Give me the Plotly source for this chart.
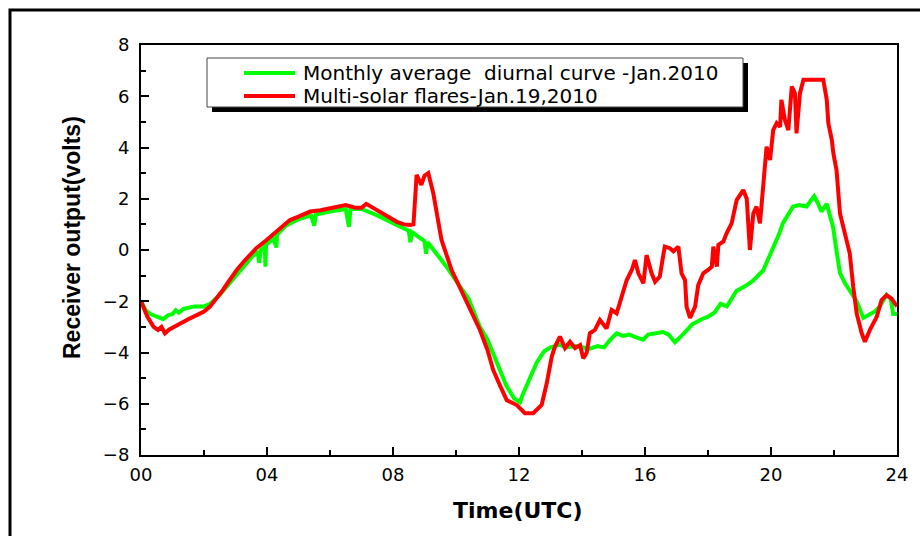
import plotly.graph_objects as go

# ---- data ----
green_t = [0.0, 0.15, 0.3, 0.5, 0.7, 0.85, 1.0, 1.1, 1.2, 1.35, 1.5, 1.7, 2.0, 2.2, 2.5, 2.8, 3.0,
           3.3, 3.5, 3.7, 3.75, 3.8, 3.93, 3.95, 3.97, 4.2, 4.3, 4.32, 4.6, 5.0, 5.4, 5.5, 5.55,
           6.0, 6.5, 6.6, 6.65, 7.0, 7.5, 8.0, 8.5, 8.55, 8.6, 9.0, 9.05, 9.1, 9.5, 9.7, 10.0,
           10.4, 10.76, 11.0, 11.3, 11.6, 11.85, 12.03, 12.1, 12.3, 12.56, 12.8, 13.0, 13.3,
           13.5, 13.8, 14.0, 14.25, 14.5, 14.7, 14.9, 15.1, 15.3, 15.5, 15.7, 15.94, 16.1, 16.3,
           16.57, 16.75, 16.95, 17.2, 17.5, 17.8, 18.0, 18.2, 18.4, 18.6, 18.9, 19.2, 19.43,
           19.75, 19.9, 20.07, 20.25, 20.38, 20.55, 20.7, 20.9, 21.13, 21.25, 21.37, 21.5, 21.6,
           21.77, 21.87, 21.97, 22.1, 22.19, 22.35, 22.5, 22.72, 22.93, 23.1, 23.3, 23.46, 23.6,
           23.67, 23.8, 23.88, 24.0]
green_v = [-2.0, -2.35, -2.5, -2.6, -2.7, -2.55, -2.5, -2.35, -2.45, -2.3, -2.25, -2.2, -2.2, -2.1,
           -1.75, -1.3, -1.0, -0.55, -0.3, -0.05, -0.5, 0.0, 0.15, -0.65, 0.2, 0.45, 0.1, 0.6,
           0.95, 1.2, 1.35, 0.95, 1.38, 1.5, 1.6, 0.9, 1.6, 1.6, 1.35, 1.05, 0.75, 0.3, 0.7,
           0.35, -0.15, 0.3, -0.3, -0.65, -1.2, -1.9, -3.0, -3.5, -4.4, -5.3, -5.8, -5.95, -5.7,
           -5.1, -4.4, -3.95, -3.8, -3.7, -3.8, -3.75, -3.8, -3.85, -3.75, -3.8, -3.5, -3.25,
           -3.35, -3.3, -3.4, -3.5, -3.3, -3.25, -3.2, -3.3, -3.6, -3.3, -2.9, -2.7, -2.6, -2.45,
           -2.1, -2.2, -1.6, -1.4, -1.2, -0.8, -0.4, 0.1, 0.6, 1.05, 1.4, 1.7, 1.75, 1.7, 1.9,
           2.1, 1.8, 1.5, 1.8, 1.4, 0.9, -0.2, -0.9, -1.3, -1.6, -2.0, -2.65, -2.55, -2.4, -2.2,
           -1.85, -1.75, -1.9, -2.5, -2.5]

red_t = [0.0, 0.2, 0.4, 0.54, 0.65, 0.76, 0.9, 1.24, 1.5, 1.77, 2.0, 2.19, 2.4, 2.6, 2.8, 3.04,
         3.3, 3.67, 3.95, 4.19, 4.45, 4.73, 5.0, 5.37, 5.7, 6.0, 6.3, 6.5, 6.8, 7.0, 7.15, 7.3,
         7.59, 7.85, 8.12, 8.35, 8.54, 8.65, 8.75, 8.9, 9.0, 9.12, 9.28, 9.44, 9.54, 9.86, 10.1,
         10.4, 10.76, 11.0, 11.18, 11.4, 11.61, 11.93, 12.19, 12.45, 12.6, 12.72, 12.88, 13.04,
         13.14, 13.3, 13.46, 13.62, 13.78, 13.94, 14.04, 14.15, 14.25, 14.41, 14.57, 14.78,
         14.94, 15.1, 15.26, 15.42, 15.58, 15.68, 15.79, 15.95, 16.05, 16.21, 16.32, 16.47,
         16.58, 16.63, 16.79, 16.9, 17.06, 17.16, 17.27, 17.32, 17.43, 17.59, 17.69, 17.85,
         18.0, 18.12, 18.17, 18.28, 18.33, 18.49, 18.59, 18.75, 18.91, 19.12, 19.23, 19.33,
         19.44, 19.54, 19.65, 19.76, 19.86, 19.97, 20.07, 20.18, 20.29, 20.33, 20.44, 20.55,
         20.66, 20.76, 20.81, 20.92, 21.03, 21.66, 21.77, 21.82, 21.93, 21.98, 22.08, 22.19,
         22.3, 22.5, 22.61, 22.72, 22.88, 22.98, 23.14, 23.36, 23.51, 23.67, 23.83, 23.97, 24.0]
red_v = [-2.0, -2.6, -3.0, -3.12, -3.0, -3.25, -3.1, -2.86, -2.7, -2.54, -2.4, -2.21, -1.9, -1.56,
         -1.2, -0.78, -0.4, 0.08, 0.35, 0.59, 0.9, 1.17, 1.3, 1.5, 1.55, 1.64, 1.7, 1.75, 1.65,
         1.65, 1.8, 1.7, 1.5, 1.3, 1.1, 1.0, 0.98, 1.0, 2.93, 2.54, 2.9, 3.0, 2.21, 1.04, 0.39,
         -0.78, -1.4, -2.1, -3.12, -3.9, -4.68, -5.3, -5.86, -6.05, -6.37, -6.37, -6.2, -6.05,
         -5.2, -4.16, -3.78, -3.38, -3.83, -3.58, -3.83, -3.71, -4.23, -4.0, -3.25, -3.12,
         -2.73, -3.06, -2.34, -2.47, -1.82, -1.17, -0.78, -0.39, -0.91, -1.3, -0.2, -0.91,
         -1.24, -1.04, -0.2, 0.13, 0.07, -0.05, 0.13, -0.91, -1.17, -2.21, -2.65, -2.21, -1.37,
         -0.91, -0.78, -0.65, 0.13, -0.65, 0.2, 0.33, 0.65, 1.04, 1.95, 2.34, 2.0, 0.0, 1.43,
         1.69, 1.04, 2.86, 4.03, 3.51, 4.68, 4.95, 4.81, 5.86, 5.08, 4.68, 6.38, 6.12, 4.55,
         6.12, 6.64, 6.64, 5.86, 4.95, 4.3, 3.77, 3.12, 1.43, 0.91, -0.13, -1.43, -2.47, -3.25,
         -3.58, -3.12, -2.6, -1.95, -1.76, -1.9, -2.21, -2.2]

series_names = ["Monthly average  diurnal curve -Jan.2010", "Multi-solar flares-Jan.19,2010"]
series_colors = ["#00ff00", "#ff0000"]

x_tickvals = [0, 4, 8, 12, 16, 20, 24]
x_ticktext = ["00", "04", "08", "12", "16", "20", "24"]
y_tickvals = [-8, -6, -4, -2, 0, 2, 4, 6, 8]

# ---- layout geometry (pixels) ----
W, H = 920, 536
L, R, T, B = 141, 897, 45, 455
PW, PH = R - L, B - T


def px(xp):
    return (xp - L) / PW


def py(yp):
    return (B - yp) / PH


fig = go.Figure()
fig.add_trace(go.Scatter(x=green_t, y=green_v, mode="lines", name=series_names[0],
                         line=dict(color=series_colors[0], width=4), showlegend=False))
fig.add_trace(go.Scatter(x=red_t, y=red_v, mode="lines", name=series_names[1],
                         line=dict(color=series_colors[1], width=4), showlegend=False))

wide = "DejaVu Sans, Verdana, sans-serif"
arial = "Liberation Sans, Arial, sans-serif"
fig.update_layout(
    width=W, height=H,
    margin=dict(l=L, r=W - R, t=T, b=H - B, pad=0),
    paper_bgcolor="white", plot_bgcolor="white",
    font=dict(family=wide, size=18, color="black"),
    showlegend=False,
)
fig.update_xaxes(range=[0, 24], tickvals=x_tickvals, ticktext=x_ticktext,
                 showline=True, linecolor="black", linewidth=2, mirror=True,
                 ticks="inside", ticklen=8, tickwidth=1.5, tickcolor="black",
                 minor=dict(dtick=2, ticks="inside", ticklen=5, tickwidth=1.5, tickcolor="black"),
                 showgrid=False, zeroline=False, tickfont=dict(size=18, family=wide),
                 ticklabelstandoff=2)
fig.update_yaxes(range=[-8, 8], tickvals=y_tickvals,
                 showline=True, linecolor="black", linewidth=2, mirror=True,
                 ticks="inside", ticklen=8, tickwidth=1.5, tickcolor="black",
                 minor=dict(dtick=1, ticks="inside", ticklen=5, tickwidth=1.5, tickcolor="black"),
                 showgrid=False, zeroline=False, tickfont=dict(size=18, family=wide),
                 ticklabelstandoff=6)

shapes = []
# outer frame
shapes.append(dict(type="rect", xref="paper", yref="paper",
                   x0=px(10), x1=px(930), y0=py(545), y1=py(10),
                   line=dict(color="black", width=3), fillcolor="rgba(0,0,0,0)", layer="above"))
# legend shadow and box
shapes.append(dict(type="rect", xref="paper", yref="paper",
                   x0=px(212), x1=px(748), y0=py(112), y1=py(63),
                   line=dict(width=0), fillcolor="black", layer="above"))
shapes.append(dict(type="rect", xref="paper", yref="paper",
                   x0=px(207), x1=px(743), y0=py(107), y1=py(58),
                   line=dict(color="#444", width=1), fillcolor="white", layer="above"))
# legend samples
for i, yy in enumerate([73, 96]):
    shapes.append(dict(type="line", xref="paper", yref="paper",
                       x0=px(244), x1=px(295), y0=py(yy), y1=py(yy),
                       line=dict(color=series_colors[i], width=4), layer="above"))
fig.update_layout(shapes=shapes)

ann = []
for i, yy in enumerate([73, 96]):
    ann.append(dict(xref="paper", yref="paper", x=px(301), y=py(yy), xanchor="left",
                    yanchor="middle", text=series_names[i].replace("  ", "&nbsp; "),
                    showarrow=False, font=dict(size=20, family=wide)))
ann.append(dict(xref="paper", yref="paper", x=px(518), y=py(510), xanchor="center",
                yanchor="middle", text="<b>Time(UTC)</b>", showarrow=False,
                font=dict(size=22, family=wide)))
ann.append(dict(xref="paper", yref="paper", x=px(72), y=py(238), xanchor="center",
                yanchor="middle", text="<b>Receiver output(volts)</b>", showarrow=False,
                textangle=-90, font=dict(size=23, family=arial)))
fig.update_layout(annotations=ann)

fig.write_html("out.html")
